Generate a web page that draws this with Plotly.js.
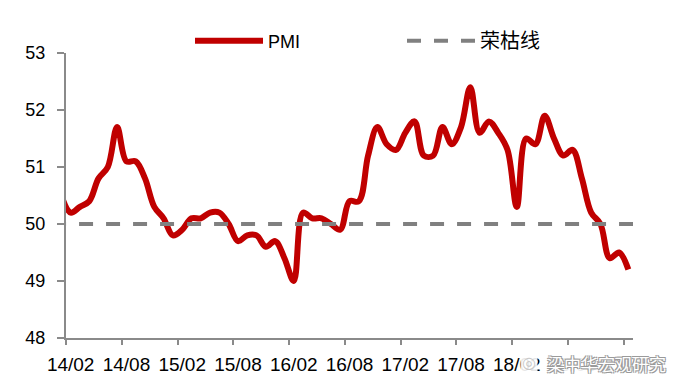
<!DOCTYPE html>
<html>
<head>
<meta charset="utf-8">
<script src="https://cdn.plot.ly/plotly-3.0.1.min.js"></script>
<style>html,body{margin:0;padding:0;background:#fff;}#chart{width:687px;height:392px;}</style>
</head>
<body>
<div id="chart"></div>
<script>
// Monthly China manufacturing PMI, first value = 14/01 (partly outside the axis), last = 19/02
var firstMonthOffset = -1; // index of the first value relative to 14/02
var pmi = [
  50.5,
  50.2, 50.3, 50.4, 50.8, 51.0, 51.7, 51.1, 51.1, 50.8, 50.3, 50.1,
  49.8, 49.9, 50.1, 50.1, 50.2, 50.2, 50.0, 49.7, 49.8, 49.8, 49.6, 49.7,
  49.4, 49.0, 50.2, 50.1, 50.1, 50.0, 49.9, 50.4, 50.4, 51.2, 51.7, 51.4,
  51.3, 51.6, 51.8, 51.2, 51.2, 51.7, 51.4, 51.7, 52.4, 51.6, 51.8, 51.6,
  51.3, 50.3, 51.5, 51.4, 51.9, 51.5, 51.2, 51.3, 50.8, 50.2, 50.0, 49.4,
  49.5, 49.2
];
var boomBust = [50, 50];
var tickLabels = ['14/02','14/08','15/02','15/08','16/02','16/08','17/02','17/08','18/02','18/08','19/02'];
var monthsPerLabel = 6;
var yTicks = [48, 49, 50, 51, 52, 53];

var xStart = -0.5, xEnd = 60.5;
var dashLead = 1.5; // the boom-bust line starts a little left of the axis so its dash pattern begins with a gap
var xIdx = pmi.map(function (v, i) { return i + firstMonthOffset; });
var labelPos = tickLabels.map(function (t, k) { return k * monthsPerLabel; });
var boundaryPos = tickLabels.map(function (t, k) { return k * monthsPerLabel - 0.5; });

var axisGrey = '#8a8a8a';
var traces = [
  {
    x: xIdx, y: pmi, name: 'PMI', type: 'scatter', mode: 'lines',
    line: {color: '#C00000', width: 6, shape: 'spline', smoothing: 1},
    hoverinfo: 'skip'
  },
  {
    x: [xStart - dashLead, xEnd], y: boomBust,
    name: '<span style="font-size:20px">荣枯线</span>', type: 'scatter', mode: 'lines',
    line: {color: '#808080', width: 4, dash: '14px,13px'},
    hoverinfo: 'skip'
  },
  {
    x: [xStart, xEnd], y: [null, null], xaxis: 'x2', showlegend: false,
    type: 'scatter', mode: 'lines', hoverinfo: 'skip'
  }
];

var layout = {
  width: 687, height: 392,
  margin: {l: 66, r: 54, t: 53, b: 54, autoexpand: false},
  paper_bgcolor: '#fff', plot_bgcolor: '#fff',
  font: {family: 'Liberation Sans, Arial, sans-serif', color: '#000', size: 18},
  showlegend: true,
  legend: {
    orientation: 'h', xref: 'container', yref: 'container',
    x: 190 / 687, xanchor: 'left', y: 1 - 41 / 392, yanchor: 'middle',
    itemwidth: 68, entrywidth: 129, entrywidthmode: 'pixels',
    font: {size: 18, family: 'Liberation Sans, Noto Sans CJK SC, sans-serif'},
    bgcolor: 'rgba(0,0,0,0)', traceorder: 'normal'
  },
  xaxis: {
    range: [xStart, xEnd], tickmode: 'array', tickvals: labelPos, ticktext: tickLabels,
    ticks: '', showgrid: false, zeroline: false,
    showline: true, linecolor: axisGrey, linewidth: 2,
    tickfont: {size: 19}, ticklabelstandoff: 8, fixedrange: true
  },
  xaxis2: {
    overlaying: 'x', anchor: 'y', side: 'bottom', range: [xStart, xEnd],
    tickmode: 'array', tickvals: boundaryPos, showticklabels: false,
    ticks: 'outside', ticklen: 6, tickwidth: 2, tickcolor: axisGrey,
    showgrid: false, zeroline: false, showline: false
  },
  yaxis: {
    range: [48, 53], tickmode: 'array', tickvals: yTicks,
    ticks: 'outside', ticklen: 7, tickwidth: 2, tickcolor: axisGrey,
    showgrid: false, zeroline: false, showline: true, linecolor: axisGrey, linewidth: 2,
    tickfont: {size: 18}, ticklabelstandoff: 8, fixedrange: true
  },
  annotations: [
    {
      xref: 'paper', yref: 'paper', x: (606 - 66) / 567, y: -(363 - 338) / 285,
      text: '梁中华宏观研究', showarrow: false, xanchor: 'center', yanchor: 'middle',
      font: {family: 'Noto Sans CJK SC, sans-serif', size: 17, color: '#ffffff',
             shadow: '1px 1px 0 #9a9a9a, -1px -1px 0 #9a9a9a, 1px -1px 0 #9a9a9a, -1px 1px 0 #9a9a9a'},
      bgcolor: 'rgba(255,255,255,0.92)', borderpad: 2
    },
    {
      xref: 'paper', yref: 'paper', x: (529 - 66) / 567, y: -(362 - 338) / 285,
      text: '◎', showarrow: false, xanchor: 'center', yanchor: 'middle',
      font: {family: 'DejaVu Sans, sans-serif', size: 16, color: '#c8c8c8'},
      bgcolor: 'rgba(255,255,255,0.9)'
    },
    {
      xref: 'container', yref: 'container', x: 677 / 687, y: 1 - 370 / 392,
      text: '↵', showarrow: false, xanchor: 'center', yanchor: 'middle',
      font: {family: 'DejaVu Sans, sans-serif', size: 9, color: '#999'}
    }
  ]
};

Plotly.newPlot('chart', traces, layout, {staticPlot: true, displayModeBar: false});
</script>
</body>
</html>
